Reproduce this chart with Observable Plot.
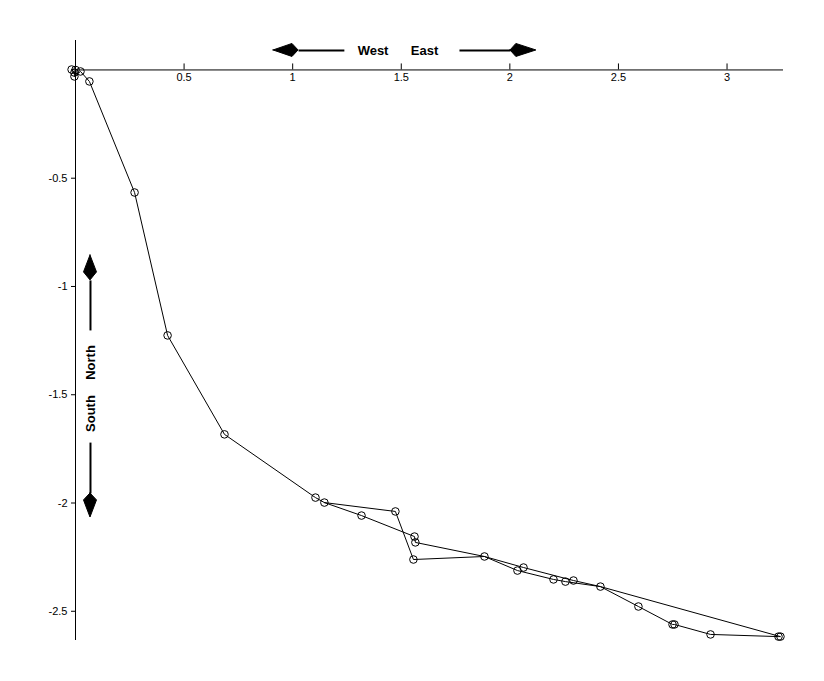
<!DOCTYPE html>
<html>
<head>
<meta charset="utf-8">
<script src="https://cdn.jsdelivr.net/npm/d3@7"></script>
<script src="https://cdn.jsdelivr.net/npm/@observablehq/plot@0.6"></script>
<style>
  html, body { margin: 0; padding: 0; background: #fff; }
  #chart svg { display: block; }
</style>
</head>
<body>
<div id="chart"></div>
<script>
// Track (east displacement, north displacement), in path order
const east = [0, -0.018, -0.005, -0.005, 0.023, 0.064, 0.272, 0.424, 0.686, 1.105, 1.146,
  1.473, 1.556, 1.883, 2.063, 2.293, 2.417, 2.592, 2.749, 2.758, 2.924, 3.237, 3.246,
  2.417, 2.256, 2.201, 2.035, 1.883, 1.565, 1.561, 1.317, 1.146];
const north = [0, 0.002, -0.012, -0.030, -0.007, -0.053, -0.566, -1.226, -1.683, -1.975, -1.998,
  -2.039, -2.261, -2.247, -2.298, -2.358, -2.386, -2.478, -2.561, -2.561, -2.607, -2.617, -2.617,
  -2.386, -2.363, -2.353, -2.312, -2.247, -2.182, -2.155, -2.058, -1.998];

const xTicks = [0.5, 1, 1.5, 2, 2.5, 3];
const yTicks = [-0.5, -1, -1.5, -2, -2.5];
const xTickLabels = ["0.5", "1", "1.5", "2", "2.5", "3"];
const yTickLabels = ["-0.5", "-1", "-1.5", "-2", "-2.5"];

const track = east.map((e, i) => ({x: e, y: north[i]}));
// markers only once per visited location
const seen = new Set();
const stops = track.filter(d => {
  const k = d.x + "," + d.y;
  if (seen.has(k)) return false;
  seen.add(k);
  return true;
});

// layout
const W = 824, H = 681;
const mL = 75, mR = 41, mT = 40, mB = 41;
const xDom = [0, 3.26], yDom = [-2.635, 0.136];
const pxX = (W - mL - mR) / (xDom[1] - xDom[0]);
const pxY = (H - mT - mB) / (yDom[1] - yDom[0]);
const px2x = p => p / pxX;   // pixel length -> x units
const px2y = p => p / pxY;   // pixel length -> y units

// annotation arrows (data units)
const hy = 0.090, hh = px2y(6.5);
const vx = 0.069, vw = px2x(6.5);
const leftHead = [{x: 0.912, w: 0}, {x: 0.999, w: hh}, {x: 1.027, w: 0}];
const rightHead = [{x: 2.003, w: 0}, {x: 2.030, w: hh}, {x: 2.122, w: 0}];
const upHead = [{y: -0.857, w: 0}, {y: -0.935, w: vw}, {y: -0.972, w: 0}];
const downHead = [{y: -1.956, w: 0}, {y: -1.988, w: vw}, {y: -2.067, w: 0}];

const font = "'Liberation Sans', Arial, Helvetica, sans-serif";

const plot = Plot.plot({
  width: W, height: H,
  marginLeft: mL, marginRight: mR, marginTop: mT, marginBottom: mB,
  x: {domain: xDom, axis: null},
  y: {domain: yDom, axis: null},
  style: {fontFamily: font, background: "#fff", overflow: "visible"},
  marks: [
    // axes
    Plot.ruleY([0], {x1: 0, x2: xDom[1], stroke: "#000", strokeWidth: 1}),
    Plot.ruleX([0], {y1: yDom[0], y2: yDom[1], stroke: "#000", strokeWidth: 1}),
    Plot.ruleX(xTicks, {x: d => d, y1: 0, y2: px2y(6), stroke: "#000"}),
    Plot.ruleY(yTicks, {y: d => d, x1: -px2x(4), x2: 0, stroke: "#000"}),
    Plot.text(xTicks, {x: d => d, y: 0, dy: 8, text: (d, i) => xTickLabels[i], fontSize: 11, fill: "#000"}),
    Plot.text(yTicks, {x: 0, y: d => d, dx: -8, text: (d, i) => yTickLabels[i], textAnchor: "end", fontSize: 11, fill: "#000"}),
    // track
    Plot.line(track, {x: "x", y: "y", stroke: "#000", strokeWidth: 1, curve: "linear"}),
    Plot.dot(stops, {x: "x", y: "y", r: 3.8, stroke: "#000", fill: "none", strokeWidth: 1}),
    // West / East annotation
    Plot.link([0], {x1: 1.027, x2: 1.238, y1: hy, y2: hy, stroke: "#000", strokeWidth: 2}),
    Plot.link([0], {x1: 1.768, x2: 2.003, y1: hy, y2: hy, stroke: "#000", strokeWidth: 2}),
    Plot.areaY(leftHead, {x: "x", y1: d => hy - d.w, y2: d => hy + d.w, fill: "#000", stroke: "#000", strokeWidth: 1, curve: "linear"}),
    Plot.areaY(rightHead, {x: "x", y1: d => hy - d.w, y2: d => hy + d.w, fill: "#000", stroke: "#000", strokeWidth: 1, curve: "linear"}),
    Plot.text(["West"], {x: 1.370, y: hy, text: d => d, fontSize: 13, fontWeight: "bold", fill: "#000"}),
    Plot.text(["East"], {x: 1.607, y: hy, text: d => d, fontSize: 13, fontWeight: "bold", fill: "#000"}),
    // South / North annotation
    Plot.link([0], {x1: vx, x2: vx, y1: -0.972, y2: -1.203, stroke: "#000", strokeWidth: 2}),
    Plot.link([0], {x1: vx, x2: vx, y1: -1.721, y2: -1.956, stroke: "#000", strokeWidth: 2}),
    Plot.areaX(upHead, {y: "y", x1: d => vx - d.w, x2: d => vx + d.w, fill: "#000", stroke: "#000", strokeWidth: 1, curve: "linear"}),
    Plot.areaX(downHead, {y: "y", x1: d => vx - d.w, x2: d => vx + d.w, fill: "#000", stroke: "#000", strokeWidth: 1, curve: "linear"}),
    Plot.text(["North"], {x: vx, y: -1.351, text: d => d, rotate: -90, fontSize: 13, fontWeight: "bold", fill: "#000"}),
    Plot.text(["South"], {x: vx, y: -1.587, text: d => d, rotate: -90, fontSize: 13, fontWeight: "bold", fill: "#000"})
  ]
});
document.getElementById("chart").appendChild(plot);
</script>
</body>
</html>
